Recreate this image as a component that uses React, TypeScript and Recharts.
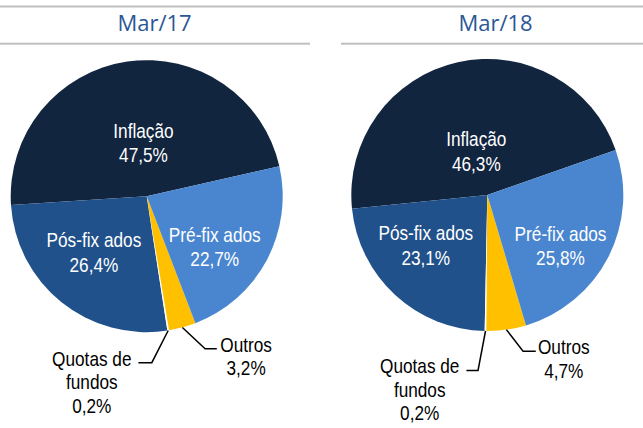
import React from "react"
import { PieChart, Pie, Cell } from "recharts"

const categories = ["Inflação", "Pós-fix ados", "Quotas de fundos", "Outros", "Pré-fix ados"]
const labelLines = [["Inflação"], ["Pós-fix ados"], ["Quotas de", "fundos"], ["Outros"], ["Pré-fix ados"]]
const mar17 = [47.5, 26.4, 0.2, 3.2, 22.7]
const mar18 = [46.3, 23.1, 0.2, 4.7, 25.8]
const titles = ["Mar/17", "Mar/18"]

const colors = ["#12253F", "#21518A", "#FFFFFF", "#FFC000", "#4A86D0"]
const FONT = '"Liberation Sans", Arial, sans-serif'
const NARROW = 0.82
const RAD = Math.PI / 180

type Layout = {
  inside: Record<string, [number, number]>
  outside: Record<string, { elbow: [number, number]; end: [number, number]; textDx: number }>
}

const leftLayout: Layout = {
  inside: { "Inflação": [0.4, -4.8], "Pós-fix ados": [0.56, -5.1], "Pré-fix ados": [0.62, -8] },
  outside: {
    Outros: { elbow: [22.7, 21.4], end: [34.4, 21.4], textDx: 29.3 },
    "Quotas de fundos": { elbow: [-16.4, 32.2], end: [-29.8, 32.2], textDx: -46.6 },
  },
}

const rightLayout: Layout = {
  inside: { "Inflação": [0.34, 1.2], "Pós-fix ados": [0.58, -8.6], "Pré-fix ados": [0.65, -7] },
  outside: {
    Outros: { elbow: [16.7, 21.6], end: [29.4, 21.6], textDx: 28 },
    "Quotas de fundos": { elbow: [-7.5, 39.5], end: [-19.1, 39.5], textDx: -46.7 },
  },
}

const toData = (values: number[]) => categories.map((name, i) => ({ name, value: values[i] }))
const fmt = (v: number) => v.toFixed(1).replace(".", ",") + "%"

// narrow text look: squeeze horizontally around its own x
const NarrowText = ({ x, y, lines, fill, gap }: { x: number; y: number; lines: string[]; fill: string; gap: number }) => (
  <text
    x={x}
    y={y}
    fill={fill}
    fontSize={21}
    fontFamily={FONT}
    textAnchor="middle"
    transform={`translate(${x},0) scale(${NARROW},1) translate(${-x},0)`}
  >
    {lines.map((l, i) => (
      <tspan key={i} x={x} dy={i === 0 ? 0 : gap}>
        {l}
      </tspan>
    ))}
  </text>
)

const makeLabel = (layout: Layout) => (props: any) => {
  const { cx, cy, midAngle, outerRadius, value } = props
  const name = props.name ?? props.payload?.name
  const idx = categories.indexOf(name)
  const lines = [...labelLines[idx], fmt(value)]

  if (layout.inside[name]) {
    const [rf, shift] = layout.inside[name]
    const a = (midAngle + shift) * RAD
    const x = cx + outerRadius * rf * Math.cos(a)
    const y = cy - outerRadius * rf * Math.sin(a)
    return <NarrowText x={x} y={y - 4} lines={lines} fill="#fff" gap={24.5} />
  }

  const o = layout.outside[name]
  const a = midAngle * RAD
  const ex = cx + outerRadius * Math.cos(a)
  const ey = cy - outerRadius * Math.sin(a)
  const bx = ex + o.elbow[0]
  const by = ey + o.elbow[1]
  const fx = ex + o.end[0]
  const fy = ey + o.end[1]
  return (
    <g>
      <polyline points={`${ex},${ey} ${bx},${by} ${fx},${fy}`} fill="none" stroke="#000" strokeWidth={1.5} />
      <NarrowText x={fx + o.textDx} y={fy + 3} lines={lines} fill="#000" gap={23.5} />
    </g>
  )
}

export default function App() {
  return (
    <div style={{ position: "absolute", left: 0, top: 0, width: 643, height: 428, background: "#fff" }}>
      <svg width={643} height={428} style={{ position: "absolute", left: 0, top: 0 }}>
        <rect x={0} y={5.5} width={643} height={2} fill="#BFBFBF" />
        <rect x={0} y={42.7} width={310} height={2} fill="#BFBFBF" />
        <rect x={341} y={42.7} width={302} height={2} fill="#BFBFBF" />
        <text x={154.5} y={30.5} textAnchor="middle" fontSize={22} fontFamily='"Open Sans", sans-serif' fill="#2B5797">
          {titles[0]}
        </text>
        <text x={495.5} y={30.5} textAnchor="middle" fontSize={22} fontFamily='"Open Sans", sans-serif' fill="#2B5797">
          {titles[1]}
        </text>
      </svg>
      <div style={{ position: "absolute", left: 0, top: 0 }}>
        <PieChart width={643} height={428} margin={{ top: 0, right: 0, bottom: 0, left: 0 }}>
          <Pie
            data={toData(mar17)}
            dataKey="value"
            nameKey="name"
            cx={146.7}
            cy={196.2}
            outerRadius={136}
            startAngle={12.7}
            endAngle={372.7}
            stroke="none"
            labelLine={false}
            label={makeLabel(leftLayout)}
            isAnimationActive={false}
          >
            {categories.map((c, i) => (
              <Cell key={c} fill={colors[i]} />
            ))}
          </Pie>
          <Pie
            data={toData(mar18)}
            dataKey="value"
            nameKey="name"
            cx={487.3}
            cy={195}
            outerRadius={136}
            startAngle={19.3}
            endAngle={379.3}
            stroke="none"
            labelLine={false}
            label={makeLabel(rightLayout)}
            isAnimationActive={false}
          >
            {categories.map((c, i) => (
              <Cell key={c} fill={colors[i]} />
            ))}
          </Pie>
        </PieChart>
      </div>
    </div>
  )
}
